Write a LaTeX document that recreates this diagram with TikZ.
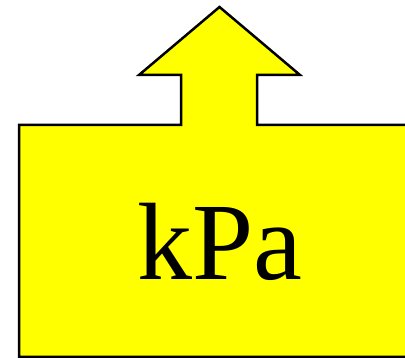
\documentclass[tikz,border=0pt]{standalone}
\usepackage{fontspec}
\setmainfont{Liberation Serif}
\definecolor{GaugeColor}{RGB}{255,255,0}
\usetikzlibrary{positioning}

\begin{document}
\begin{tikzpicture}[x=1pt, y=-1pt, line join=miter]
          \useasboundingbox (0,0) rectangle (405,358);
          % box with the arrow on top
          \draw[fill=GaugeColor, line width=2.5pt] (19,357) -- (19,125) -- (181,125) -- (181,75) -- (139,75)
            -- (219.5,7) -- (300,75) -- (257,75) -- (257,125) -- (425,125) -- (425,357) -- cycle;
          \node[anchor=base, inner sep=0pt, font=\fontsize{110}{120}\selectfont] (unit) at (219.5,280) {kPa};
        \end{tikzpicture}
\end{document}
